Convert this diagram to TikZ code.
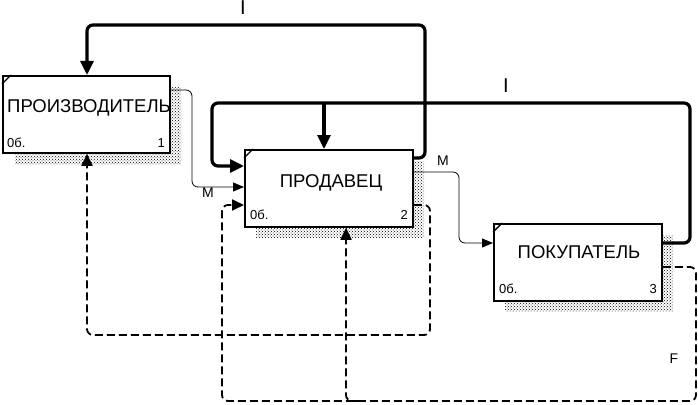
\documentclass[tikz,border=0pt]{standalone}
\usepackage{fontspec}
\setmainfont{Liberation Sans}
\usetikzlibrary{arrows.meta,patterns}
\begin{document}
\begin{tikzpicture}[x=1pt,y=-1pt,
  box/.style={draw,line width=1.8pt,fill=white,anchor=north west,inner sep=0pt,minimum width=168pt,minimum height=77pt},
  shade/.style={pattern=crosshatch dots,pattern color=black},
  tick/.style={line width=1.4pt},
  thickline/.style={line width=3.2pt,rounded corners=6pt},
  thinline/.style={line width=0.8pt,rounded corners=6pt},
  dashline/.style={line width=1.8pt,dash pattern=on 8pt off 4pt,rounded corners=6pt},
  bigtip/.style={-{Triangle[length=14pt,width=13pt]}},
  smalltip/.style={-{Triangle[length=11pt,width=9pt]}},
  dashtip/.style={-{Triangle[length=12pt,width=11pt]}},
  title/.style={font=\fontsize{18.5}{18.5}\selectfont,anchor=base},
  small/.style={font=\fontsize{13}{13}\selectfont},
  arrowlbl/.style={font=\fontsize{14}{14}\selectfont,anchor=base,inner sep=0pt},
  ilbl/.style={font=\fontsize{20}{20}\selectfont,anchor=base,inner sep=0pt}]
\useasboundingbox (0,0) rectangle (698,404);
% shadows
\fill[shade] (15,87) rectangle (181,164);
\fill[shade] (256,161) rectangle (424,237);
\fill[shade] (505,235) rectangle (673,311);
% boxes
\node[box,minimum width=167pt] (b1) at (2,75) {};
\node[box] (b2) at (244,149) {};
\node[box] (b3) at (493,223) {};
\draw[tick] ([yshift=-9pt]b1.north west) -- ([xshift=9pt]b1.north west);
\draw[tick] ([yshift=-9pt]b2.north west) -- ([xshift=9pt]b2.north west);
\draw[tick] ([yshift=-9pt]b3.north west) -- ([xshift=9pt]b3.north west);
% box texts
\node[title,inner sep=0pt] (t1) at (89,112) {ПРОИЗВОДИТЕЛЬ};
\node[title,inner sep=0pt] (t2) at (331,187) {ПРОДАВЕЦ};
\node[title,inner sep=0pt] (t3) at (579,258) {ПОКУПАТЕЛЬ};
\node[small,anchor=base west,inner sep=0pt] (o1) at (7,147) {0б.};
\node[small,anchor=base east,inner sep=0pt] (n1) at (165,147) {1};
\node[small,anchor=base west,inner sep=0pt] (o2) at (250,219) {0б.};
\node[small,anchor=base east,inner sep=0pt] (n2) at (408,219) {2};
\node[small,anchor=base west,inner sep=0pt] (o3) at (499,293) {0б.};
\node[small,anchor=base east,inner sep=0pt] (n3) at (657,293) {3};
% thick I loop top: seller -> producer
\draw[thickline,bigtip] (b2.east |- 0,158) -- (425,158) -- (425,25) -- (87,25) -- (87,0 |- b1.north);
% thick I loop: buyer -> seller (left and top)
\draw[thickline,bigtip] (b3.east |- 0,243) -- (690,243) -- (690,103) -- (212,103) -- (212,166) -- (b2.west |- 0,166);
\draw[line width=3.2pt,bigtip] (324,103) -- (324,0 |- b2.north);
% thin M: producer -> seller
\draw[thinline,smalltip] (b1.east |- 0,90) -- (192,90) -- (192,187) -- (b2.west |- 0,187);
% thin M: seller -> buyer
\draw[thinline,smalltip] (b2.east |- 0,172) -- (459,172) -- (459,243) -- (b3.west |- 0,243);
% dashed: seller -> producer bottom
\draw[dashline,dashtip] (b2.east |- 0,205) -- (430,205) -- (430,335) -- (87,335) -- (87,0 |- b1.south);
% dashed F: buyer -> seller
\draw[dashline,dashtip] (b3.east |- 0,267) -- (696,267) -- (696,401) -- (222,401) -- (222,205) -- (b2.west |- 0,205);
\draw[dashline,dashtip] (360,401) -- (346,401) -- (346,0 |- b2.south);
% labels
\node[ilbl] (li1) at (243,15) {I};
\node[ilbl] (li2) at (506,92) {I};
\node[arrowlbl] (lm1) at (208,197) {M};
\node[arrowlbl] (lm2) at (443,165) {M};
\node[arrowlbl] (lf) at (674,363) {F};
\end{tikzpicture}
\end{document}
